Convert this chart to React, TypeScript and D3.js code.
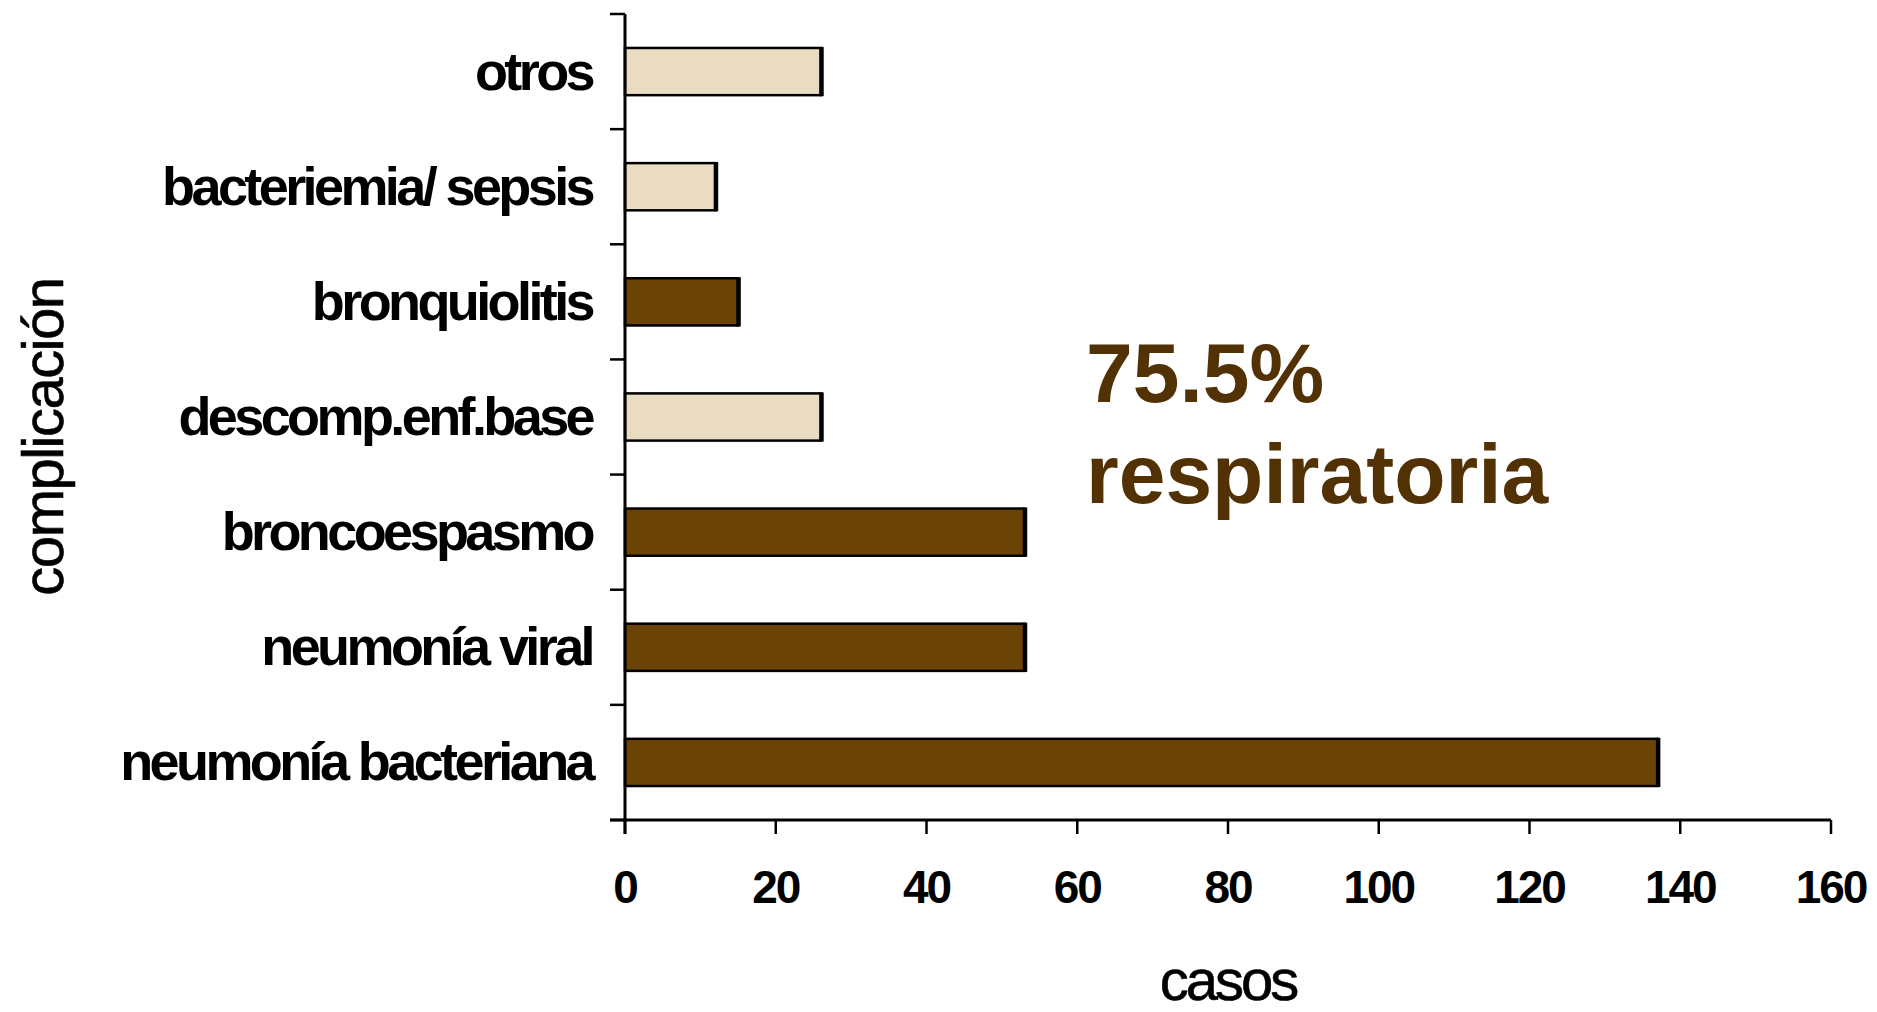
import { useEffect, useRef } from 'react';
import * as d3 from 'd3';

const CATEGORIES = [
  'otros', 'bacteriemia/ sepsis', 'bronquiolitis', 'descomp.enf.base',
  'broncoespasmo', 'neumonía viral', 'neumonía bacteriana',
];
const CASES = [26, 12, 15, 26, 53, 53, 137];
const RESPIRATORY = [false, false, true, false, true, true, true];
const X_TICKS = [0, 20, 40, 60, 80, 100, 120, 140, 160];

const LIGHT = '#EADCC0';
const DARK = '#6C4307';
const NOTE = '#523105';
const FONT = '"Liberation Sans", Arial, sans-serif';

export default function App() {
  const svgRef = useRef<SVGSVGElement>(null);

  useEffect(() => {
    const svgEl = svgRef.current;
    if (!svgEl) return;
    const width = 1877;
    const height = 1012;
    const margin = { top: 14, left: 625, right: 46, bottom: 192 };
    const innerW = width - margin.left - margin.right;
    const innerH = height - margin.top - margin.bottom;

    const svg = d3.select(svgEl).attr('viewBox', `0 0 ${width} ${height}`);
    svg.selectAll('*').remove();

    const x = d3.scaleLinear().domain([0, 160]).range([margin.left, margin.left + innerW]);
    const y = d3.scaleBand<string>().domain(CATEGORIES).range([margin.top, margin.top + innerH]).paddingInner(0.59).paddingOuter(0.295);
    const band = d3.scaleBand<string>().domain(CATEGORIES).range([margin.top, margin.top + innerH]);

    // Bars
    const bars = svg.append('g').selectAll('g').data(CATEGORIES).join('g');
    bars.append('rect')
      .attr('x', x(0)).attr('y', (d) => y(d)!)
      .attr('width', (_, i) => x(CASES[i]) - x(0)).attr('height', y.bandwidth())
      .attr('fill', (_, i) => (RESPIRATORY[i] ? DARK : LIGHT))
      .attr('stroke', '#000').attr('stroke-width', 2.5);
    // heavier right edge
    bars.append('line')
      .attr('x1', (_, i) => x(CASES[i]) + 0.5).attr('x2', (_, i) => x(CASES[i]) + 0.5)
      .attr('y1', (d) => y(d)! - 1).attr('y2', (d) => y(d)! + y.bandwidth() + 1)
      .attr('stroke', '#000').attr('stroke-width', 4.5);

    // Y axis
    const yAxis = svg.append('g');
    yAxis.append('line').attr('x1', x(0)).attr('x2', x(0))
      .attr('y1', margin.top).attr('y2', margin.top + innerH + 14)
      .attr('stroke', '#000').attr('stroke-width', 3);
    const yTicks = [...CATEGORIES.map((c) => band(c)!), margin.top + innerH];
    yAxis.selectAll('.ytick').data(yTicks).join('line')
      .attr('x1', x(0) - 15).attr('x2', x(0)).attr('y1', (d) => d).attr('y2', (d) => d)
      .attr('stroke', '#000').attr('stroke-width', 2.5);
    yAxis.selectAll('.ylabel').data(CATEGORIES).join('text')
      .attr('x', x(0) - 33).attr('y', (d) => band(d)! + band.bandwidth() / 2 + 18)
      .attr('text-anchor', 'end').attr('font-family', FONT).attr('font-weight', 700)
      .attr('font-size', 54).attr('letter-spacing', -3.6).attr('fill', '#000')
      .text((d) => d);

    // X axis
    const xAxis = svg.append('g');
    xAxis.append('line').attr('x1', x(0) - 15).attr('x2', x(160))
      .attr('y1', margin.top + innerH).attr('y2', margin.top + innerH)
      .attr('stroke', '#000').attr('stroke-width', 3);
    xAxis.selectAll('.xtick').data(X_TICKS).join('line')
      .attr('x1', (d) => x(d)).attr('x2', (d) => x(d))
      .attr('y1', margin.top + innerH).attr('y2', margin.top + innerH + 14)
      .attr('stroke', '#000').attr('stroke-width', 2.5);
    xAxis.selectAll('.xlabel').data(X_TICKS).join('text')
      .attr('x', (d) => x(d)).attr('y', 903)
      .attr('text-anchor', 'middle').attr('font-family', FONT).attr('font-weight', 700)
      .attr('font-size', 46).attr('letter-spacing', -2).attr('fill', '#000')
      .text((d) => String(d));

    // Axis titles
    svg.append('text').attr('x', (x(0) + x(160)) / 2).attr('y', 1000)
      .attr('text-anchor', 'middle').attr('font-family', FONT).attr('font-size', 58)
      .attr('letter-spacing', -3).attr('fill', '#000').attr('stroke', '#000').attr('stroke-width', 0.6)
      .text('casos');
    svg.append('text').attr('transform', 'translate(63,437) rotate(-90)')
      .attr('text-anchor', 'middle').attr('font-family', FONT).attr('font-size', 58)
      .attr('letter-spacing', -1.5).attr('fill', '#000').attr('stroke', '#000').attr('stroke-width', 0.6)
      .text('complicación');

    // Annotation
    const note = svg.append('text').attr('font-family', FONT).attr('font-weight', 700)
      .attr('font-size', 84).attr('fill', NOTE);
    note.append('tspan').attr('x', 1086).attr('y', 402).text('75.5%');
    note.append('tspan').attr('x', 1086).attr('y', 503).text('respiratoria');
  }, []);

  return (
    <svg ref={svgRef} width={1877} height={1012}
      style={{ position: 'absolute', left: 0, top: 0, background: '#fff' }}
      role="img" aria-label="complicación por casos" />
  );
}
